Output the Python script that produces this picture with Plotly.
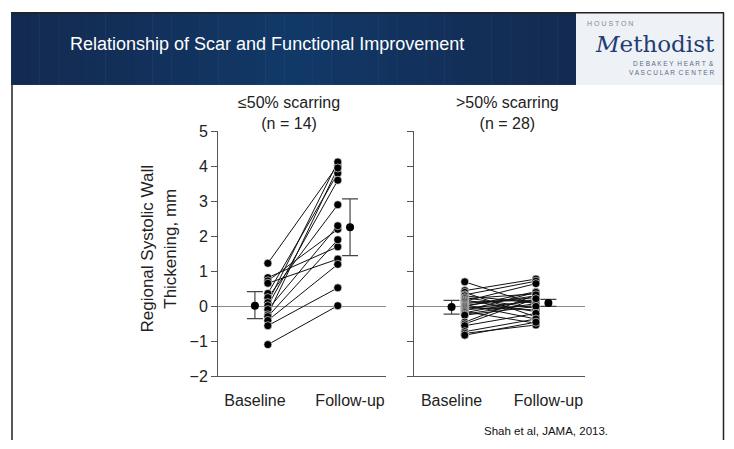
import plotly.graph_objects as go

W, H = 734, 449

# ---------------- data ----------------
categories = ["Baseline", "Follow-up"]

# <=50% scarring (n = 14): paired baseline -> follow-up
low_baseline = [1.23, 0.82, 0.73, 0.66, 0.37, 0.25, 0.11, 0.02, -0.09, -0.24, -0.29, -0.40, -0.55, -1.09]
low_followup = [4.03, 1.70, 2.20, 1.35, 3.80, 2.90, 4.12, 3.60, 2.30, 3.95, 1.90, 1.20, 0.53, 0.02]
low_mean = [0.02, 2.26]
low_err_plus = [0.40, 0.81]
low_err_minus = [0.37, 0.81]

# >50% scarring (n = 28)
high_baseline = [0.70, 0.45, 0.40, 0.33, 0.30, 0.25, 0.22, 0.18, 0.15, 0.12, 0.08, 0.05, 0.02, 0.00,
                 -0.03, -0.06, -0.09, -0.12, -0.15, -0.18, -0.22, -0.25, -0.45, -0.50, -0.55, -0.72, -0.77, -0.82]
high_followup = [0.05, 0.78, -0.30, 0.72, 0.10, -0.05, 0.36, -0.15, 0.65, 0.18, 0.25, -0.36, 0.30, 0.42,
                 -0.10, 0.15, 0.02, 0.40, -0.48, 0.20, 0.08, 0.00, 0.33, 0.22, -0.20, -0.36, -0.53, -0.45]
high_mean = [-0.02, 0.10]
high_err_plus = [0.19, 0.10]
high_err_minus = [0.20, 0.10]

panel_titles = ["≤50% scarring<br>(n = 14)", ">50% scarring<br>(n = 28)"]
y_ticks = [-2, -1, 0, 1, 2, 3, 4, 5]

# ---------------- helpers (page pixel -> paper) ----------------
def px(x):
    return x / W

def py(y):
    return 1 - y / H

FONT = "Liberation Sans, Arial, Helvetica, sans-serif"
TXT = "#222222"

MEAN_X = [1.0, 2.0]
DOT_X = [1.136, 1.871]

fig = go.Figure()

def add_panel(xa, ya, base, follow, mean, ep, em, size):
    lx, ly = [], []
    for b, f in zip(base, follow):
        lx += [DOT_X[0], DOT_X[1], None]
        ly += [b, f, None]
    fig.add_trace(go.Scatter(x=lx, y=ly, mode="lines", xaxis=xa, yaxis=ya,
                             line=dict(color="#111111", width=1), hoverinfo="skip", showlegend=False))
    fig.add_trace(go.Scatter(x=[DOT_X[0]] * len(base), y=base, mode="markers", xaxis=xa, yaxis=ya,
                             marker=dict(color="black", size=size, line=dict(color="white", width=0.6)),
                             showlegend=False))
    fig.add_trace(go.Scatter(x=[DOT_X[1]] * len(follow), y=follow, mode="markers", xaxis=xa, yaxis=ya,
                             marker=dict(color="black", size=size, line=dict(color="white", width=0.6)),
                             showlegend=False))
    fig.add_trace(go.Scatter(x=MEAN_X, y=mean, mode="markers", xaxis=xa, yaxis=ya,
                             marker=dict(color="black", size=8),
                             error_y=dict(type="data", symmetric=False, array=ep, arrayminus=em,
                                          color="#444444", thickness=1.2, width=8),
                             showlegend=False))

add_panel("x", "y", low_baseline, low_followup, low_mean, low_err_plus, low_err_minus, 8)
add_panel("x2", "y2", high_baseline, high_followup, high_mean, high_err_plus, high_err_minus, 8)

axis_common = dict(range=[0.612, 2.378], tickvals=MEAN_X, ticktext=categories, showgrid=False,
                   zeroline=False, showline=True, linecolor="#555555", linewidth=1,
                   ticks="outside", ticklen=9, tickcolor="rgba(0,0,0,0)",
                   tickfont=dict(family=FONT, size=16, color=TXT), fixedrange=True)
yaxis_common = dict(range=[-2, 5], tickvals=y_ticks, showgrid=False, zeroline=True,
                    zerolinecolor="#8a8a8a", zerolinewidth=1.5, showline=True, linecolor="#555555",
                    linewidth=1, ticks="outside", ticklen=6, tickcolor="#555555", tickwidth=1,
                    tickfont=dict(family=FONT, size=16, color=TXT), domain=[py(383), py(128)],
                    fixedrange=True)

fig.update_layout(
    width=W, height=H, margin=dict(l=0, r=0, t=0, b=0),
    paper_bgcolor="white", plot_bgcolor="white", hovermode=False,
    xaxis=dict(domain=[px(218), px(386)], anchor="y", **axis_common),
    xaxis2=dict(domain=[px(414), px(585)], anchor="y2", **axis_common),
    yaxis=dict(anchor="x", **yaxis_common),
    yaxis2=dict(anchor="x2", showticklabels=False, **yaxis_common),
)

shapes = []
x0, x1 = 11, 576
n = 60
def lerp(a, b, t):
    return int(round(a + (b - a) * t))
edge = (19, 43, 82)
mid = (17, 57, 104)
for i in range(n):
    t = (i + 0.5) / n
    k = (1 - abs(2 * t - 1)) ** 1.3
    c = tuple(lerp(edge[j], mid[j], k) for j in range(3))
    sx0 = x0 + (x1 - x0) * i / n
    sx1 = x0 + (x1 - x0) * (i + 1) / n + 0.6
    shapes.append(dict(type="rect", xref="paper", yref="paper", x0=px(sx0), x1=px(min(sx1, x1)),
                       y0=py(80), y1=py(5), fillcolor="rgb(%d,%d,%d)" % c, line=dict(width=0),
                       layer="below"))
shapes.append(dict(type="rect", xref="paper", yref="paper", x0=px(576), x1=px(723), y0=py(80), y1=py(5),
                   fillcolor="#eef1f5", line=dict(width=0), layer="below"))
shapes.append(dict(type="line", xref="paper", yref="paper", x0=px(11), x1=px(724), y0=py(5), y1=py(5),
                   line=dict(color="#222222", width=1.5)))
shapes.append(dict(type="line", xref="paper", yref="paper", x0=px(12), x1=px(12), y0=py(80), y1=py(449),
                   line=dict(color="#222222", width=1.5)))
shapes.append(dict(type="line", xref="paper", yref="paper", x0=px(723.5), x1=px(723.5), y0=py(5), y1=py(449),
                   line=dict(color="#222222", width=1.5)))
fig.update_layout(shapes=shapes)

ann = []
ann.append(dict(text="Relationship of Scar and Functional Improvement", x=px(68), y=py(37), xref="paper",
                yref="paper", xanchor="left", yanchor="middle", showarrow=False,
                font=dict(family=FONT, size=18, color="white")))
ann.append(dict(text="H O U S T O N", x=px(585), y=py(16), xref="paper", yref="paper", xanchor="left",
                yanchor="middle", showarrow=False, font=dict(family=FONT, size=7, color="#7d8ba3")))
ann.append(dict(text="<i>M</i>ethodist", x=px(717), y=py(37.5), xref="paper", yref="paper", xanchor="right",
                yanchor="middle", showarrow=False,
                font=dict(family="DejaVu Serif, Liberation Serif, serif", size=23, color="#1f3c74")))
ann.append(dict(text="D E B A K E Y  H E A R T  &", x=px(716), y=py(58), xref="paper", yref="paper",
                xanchor="right", yanchor="middle", showarrow=False,
                font=dict(family=FONT, size=6.5, color="#5b6b86")))
ann.append(dict(text="V A S C U L A R  C E N T E R", x=px(716), y=py(67), xref="paper", yref="paper",
                xanchor="right", yanchor="middle", showarrow=False,
                font=dict(family=FONT, size=6.5, color="#5b6b86")))
for cx, t in zip([289, 507], panel_titles):
    ann.append(dict(text=t, x=px(cx), y=py(109), xref="paper", yref="paper", xanchor="center",
                    yanchor="middle", showarrow=False, font=dict(family=FONT, size=16, color=TXT)))
ann.append(dict(text="Regional Systolic Wall<br>Thickening, mm", x=px(159), y=py(250), xref="paper",
                yref="paper", xanchor="center", yanchor="middle", textangle=-90, showarrow=False,
                font=dict(family=FONT, size=17, color=TXT)))
ann.append(dict(text="Shah et al, JAMA, 2013.", x=px(546), y=py(440), xref="paper", yref="paper",
                xanchor="center", yanchor="middle", showarrow=False,
                font=dict(family=FONT, size=11.5, color="#111111")))
fig.update_layout(annotations=ann)

fig.write_html("out.html", config={"displayModeBar": False, "staticPlot": True},
               post_script="document.body.style.margin='0';document.body.style.overflow='hidden';")
